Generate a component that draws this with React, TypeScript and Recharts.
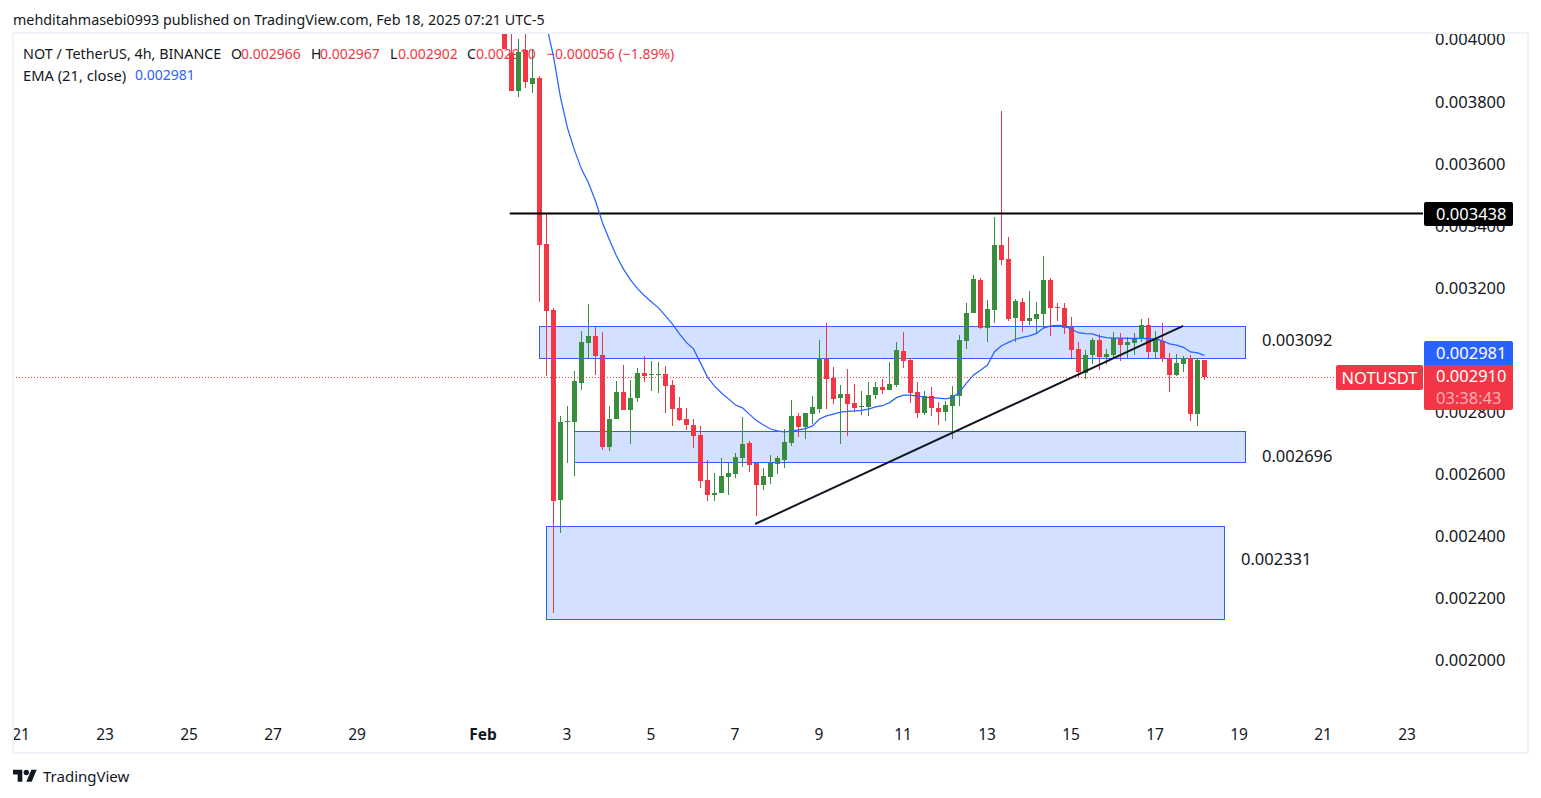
import React from "react";
import { ComposedChart, Bar, Line, XAxis, YAxis, ReferenceArea, ReferenceLine } from "recharts";

// Prices are in millionths of a USDT. Candle number 0 is Feb 1 00:00, one candle per 4 hours.
const FIRST_CANDLE = 3;
const opens = [4040,3955,3834,3965,3856,3875,3340,3127,2515,2767,2768,2893,3021,3044,2982,2686,2776,2863,2805,2844,2924,2918,2918,2921,2886,2812,2776,2757,2725,2580,2531,2538,2589,2599,2651,2699,2635,2564,2589,2631,2644,2699,2786,2750,2792,2808,2969,2908,2844,2857,2828,2815,2815,2854,2879,2870,2886,2995,2966,2863,2796,2850,2812,2799,2818,2850,3027,3118,3224,3069,3127,3337,3292,3102,3153,3092,3098,3114,3224,3137,3134,3073,3002,2924,2982,3031,2976,2982,3037,3015,3021,3034,3079,2992,3027,2973,2918,2953,2973,2792,2966];
const highs = [4060,4030,4000,4030,3965,3881,3436,3134,2786,2818,2931,3060,3147,3073,3056,2818,2899,2950,2902,2940,2979,2963,2960,2947,2902,2847,2812,2776,2754,2644,2602,2651,2635,2667,2783,2705,2635,2618,2660,2657,2744,2837,2796,2796,2850,3031,3085,2944,2886,2937,2889,2866,2895,2895,2905,2960,3024,3056,2973,2895,2866,2879,2831,2834,2882,3047,3150,3240,3230,3159,3427,3768,3362,3163,3166,3188,3153,3301,3230,3150,3150,3105,3024,2998,3037,3050,3002,3056,3053,3040,3053,3098,3102,3060,3085,2989,2986,2979,2982,2973,2967];
const lows = [3968,3833,3814,3842,3826,3154,2915,2150,2410,2635,2594,2870,2973,2918,2676,2673,2776,2805,2696,2831,2895,2866,2860,2796,2754,2770,2741,2683,2554,2512,2512,2538,2531,2586,2622,2606,2464,2548,2567,2599,2618,2689,2718,2712,2760,2796,2808,2825,2696,2721,2799,2789,2786,2841,2857,2870,2879,2940,2828,2779,2789,2786,2757,2770,2712,2818,3002,3118,3066,3024,3085,3272,3092,3024,3056,3079,3050,3069,3044,3092,3050,2973,2911,2905,2953,2934,2953,2976,2963,2969,2982,3024,2973,2973,2960,2863,2915,2928,2770,2754,2902];
const closes = [3968,3834,3958,3862,3874,3338,3125,2512,2767,2770,2899,3024,3044,2979,2686,2776,2863,2805,2844,2924,2915,2921,2921,2882,2808,2773,2757,2721,2577,2531,2538,2593,2602,2654,2696,2628,2564,2593,2635,2651,2702,2786,2750,2796,2815,2973,2905,2841,2857,2825,2812,2818,2854,2879,2870,2889,2998,2963,2860,2796,2850,2812,2799,2821,2854,3031,3118,3227,3069,3130,3337,3288,3098,3156,3092,3102,3114,3224,3134,3134,3069,2998,2928,2982,3031,2976,2986,3037,3015,3024,3034,3079,2992,3031,2969,2918,2957,2973,2792,2966,2910];
const ema = [null,null,null,null,null,4158,4045,3943,3812,3713,3642,3581,3536,3478,3408,3353,3301,3259,3224,3196,3173,3153,3134,3108,3082,3050,3022,3002,2957,2911,2882,2860,2841,2821,2812,2791,2771,2757,2744,2738,2735,2737,2741,2745,2754,2776,2786,2792,2798,2801,2802,2804,2808,2815,2819,2829,2845,2853,2853,2850,2847,2845,2843,2841,2845,2863,2892,2918,2933,2950,2993,3012,3023,3033,3039,3044,3052,3069,3076,3078,3076,3065,3054,3051,3050,3042,3038,3037,3037,3036,3036,3036,3035,3034,3028,3018,3014,3007,2992,2989,2981];

const priceTicks = [2000,2200,2400,2600,2800,3000,3200,3400,3600,3800,4000];
const timeTicks = [-66,-54,-42,-30,-18,0,12,24,36,48,60,72,84,96,108,120,132];
const timeLabels = ["21","23","25","27","29","Feb","3","5","7","9","11","13","15","17","19","21","23"];

const zoneStarts = [8, 13, 9];
const zoneEnds = [108.86, 108.86, 105.9];
const zoneTops = [3075, 2737, 2431];
const zoneBottoms = [2972, 2637, 2131];

const resistanceLevel = 3438;
const lastClose = 2910;
const trendFrom = { x: 38.8, y: 2438 };
const trendTo = { x: 99.96, y: 3076 };

const rows = opens.map((open, i) => ({
  candle: FIRST_CANDLE + i,
  open,
  high: highs[i],
  low: lows[i],
  close: closes[i],
  ema: ema[i],
}));

const UP = "#388e3c";
const DOWN = "#f23645";
const BLUE = "#2962ff";
const INK = "#131722";
const FONT = '"Noto Sans", sans-serif';

const W = 1541;
const H = 798;

function Candle(props: any) {
  const { x, y, width, height, payload } = props;
  const { open, high, low, close } = payload;
  const unit = Math.abs(height) / (high - low || 1);
  const top = Math.max(open, close);
  const bottom = Math.min(open, close);
  const bodyY = y + (high - top) * unit;
  const bodyH = Math.max(1, (top - bottom) * unit);
  const fill = close >= open ? UP : DOWN;
  const cx = x + width / 2;
  return (
    <g shapeRendering="crispEdges">
      <rect x={cx - 0.5} y={y} width={1} height={Math.abs(height)} fill={fill} />
      <rect x={x} y={bodyY} width={width} height={bodyH} fill={fill} />
    </g>
  );
}

function TimeTick(props: any) {
  const { x, y, payload } = props;
  const label = timeLabels[timeTicks.indexOf(payload.value)];
  return (
    <text x={x - 0.5} y={y} dy={8.5} textAnchor="middle" fontFamily={FONT} fontSize={15.5} fontWeight={label === "Feb" ? 700 : 400} fill={INK}>
      {label}
    </text>
  );
}

function abs(left: number, top: number, extra: React.CSSProperties = {}): React.CSSProperties {
  return { position: "absolute", left, top, fontFamily: FONT, whiteSpace: "nowrap", ...extra };
}

function Legend() {
  const s14 = { fontSize: 14, lineHeight: "20px" };
  const red = { ...s14, color: DOWN };
  const ink = { ...s14, color: INK };
  return (
    <>
      <div style={abs(23, 44, { ...ink, fontSize: 14.35 })}>NOT / TetherUS, 4h, BINANCE</div>
      <div style={abs(231, 44, ink)}>O</div>
      <div style={abs(241, 44, red)}>0.002966</div>
      <div style={abs(311, 44, ink)}>H</div>
      <div style={abs(320, 44, red)}>0.002967</div>
      <div style={abs(390, 44, ink)}>L</div>
      <div style={abs(398, 44, red)}>0.002902</div>
      <div style={abs(467, 44, ink)}>C</div>
      <div style={abs(476, 44, red)}>0.002910</div>
      <div style={abs(547, 44, red)}>−0.000056 (−1.89%)</div>
      <div style={abs(23, 65, { ...ink, fontSize: 14.7 })}>EMA (21, close)</div>
      <div style={abs(135, 65, { ...s14, color: BLUE })}>0.002981</div>
    </>
  );
}

function Tag(props: { left: number; top: number; width: number; height: number; bg: string; radius?: string; text: string; tx?: number; size?: number }) {
  const { left, top, width, height, bg, radius, text, tx, size } = props;
  return (
    <div style={abs(left, top, { width, height, background: bg, borderRadius: radius ?? "2px", color: "#fff", fontSize: size ?? 16.5, lineHeight: height + "px", zIndex: 3, textAlign: tx === undefined ? "center" : "left", paddingLeft: tx ?? 0, boxSizing: "border-box" })}>
      {text}
    </div>
  );
}

export default function App() {
  return (
    <div style={{ position: "absolute", left: 0, top: 0, width: W, height: H, background: "#fff", overflow: "hidden" }}>
      <Legend />

      <div style={{ position: "absolute", left: 0, top: 0, zIndex: 1 }}>
        <ComposedChart width={W} height={H} data={rows} margin={{ top: 33, right: 14, bottom: 45, left: 13 }}>
          <XAxis
            dataKey="candle"
            type="number"
            domain={[-67.2143, 134.2143]}
            allowDataOverflow
            ticks={timeTicks}
            interval={0}
            axisLine={false}
            tickLine={false}
            height={30}
            tick={<TimeTick />}
          />
          <YAxis
            orientation="right"
            type="number"
            domain={[1797.1, 4019.3]}
            allowDataOverflow
            ticks={priceTicks}
            interval={0}
            axisLine={false}
            tickLine={false}
            tickMargin={6}
            width={104}
            tickFormatter={(v: number) => (v / 1e6).toFixed(6)}
            tick={{ fontFamily: FONT, fontSize: 16.5, fill: INK, dy: 0.6 }}
          />
          {zoneStarts.map((start, i) => (
            <ReferenceArea
              key={i}
              x1={start}
              x2={zoneEnds[i]}
              y1={zoneBottoms[i]}
              y2={zoneTops[i]}
              fill={BLUE}
              fillOpacity={0.2}
              stroke={BLUE}
              strokeWidth={1}
              strokeOpacity={1}
              shapeRendering="crispEdges"
              ifOverflow="visible"
            />
          ))}
          <ReferenceLine
            segment={[{ x: -67.2143, y: lastClose }, { x: 121.7, y: lastClose }]}
            stroke={DOWN}
            strokeWidth={1}
            strokeDasharray="1 2"
            ifOverflow="visible"
          />
          <ReferenceLine
            segment={[{ x: 3.75, y: resistanceLevel }, { x: 134.2143, y: resistanceLevel }]}
            stroke="#000"
            strokeWidth={2}
            ifOverflow="visible"
          />
          <Bar dataKey={(r: any) => [r.low, r.high]} barSize={5} shape={<Candle />} isAnimationActive={false} />
          <Line dataKey="ema" type="linear" stroke={BLUE} strokeWidth={1.25} dot={false} activeDot={false} connectNulls={false} isAnimationActive={false} />
          <ReferenceLine
            segment={[trendFrom, trendTo]}
            stroke={INK}
            strokeWidth={2}
            ifOverflow="visible"
          />
        </ComposedChart>
      </div>

      <div style={{ position: "absolute", left: 0, top: 0, width: W, height: 32, background: "#fff", zIndex: 2 }}>
        <div style={abs(13, 10, { fontSize: 14.3, lineHeight: "20px", color: INK })}>
          mehditahmasebi0993 published on TradingView.com, Feb 18, 2025 07:21 UTC-5
        </div>
      </div>
      <div style={{ position: "absolute", left: 12, top: 32, width: 1517, height: 722, border: "2px solid #f0f3fa", boxSizing: "border-box", zIndex: 2, pointerEvents: "none" }} />

      <div style={abs(1262, 329, { fontSize: 16.5, lineHeight: "22px", color: INK, zIndex: 3 })}>0.003092</div>
      <div style={abs(1262, 445, { fontSize: 16.5, lineHeight: "22px", color: INK, zIndex: 3 })}>0.002696</div>
      <div style={abs(1241, 548, { fontSize: 16.5, lineHeight: "22px", color: INK, zIndex: 3 })}>0.002331</div>

      <Tag left={1424} top={202} width={89} height={24} bg="#000" text="0.003438" tx={12} />
      <Tag left={1424} top={341} width={89} height={24} bg={BLUE} radius="2px 2px 0 0" text="0.002981" tx={12} />
      <Tag left={1336} top={365} width={87} height={25} bg={DOWN} text="NOTUSDT" />
      <div style={abs(1424, 365, { width: 89, height: 45, background: DOWN, borderRadius: "0 0 2px 2px", zIndex: 3, paddingLeft: 12, boxSizing: "border-box", color: "#fff", fontSize: 16.5, lineHeight: "22px" })}>
        <div>0.002910</div>
        <div style={{ color: "rgba(255,255,255,0.6)" }}>03:38:43</div>
      </div>

      <svg style={{ position: "absolute", left: 13, top: 767, zIndex: 3 }} width={24} height={19} viewBox="0 0 36 28">
        <path d="M14 22H7V11H0V4h14v18zM28 22h-8l7.5-18h8L28 22z" fill={INK} />
        <circle cx={20} cy={8} r={4} fill={INK} />
      </svg>
      <div style={abs(43, 766, { fontSize: 15, lineHeight: "20px", color: INK, zIndex: 3 })}>TradingView</div>
    </div>
  );
}
